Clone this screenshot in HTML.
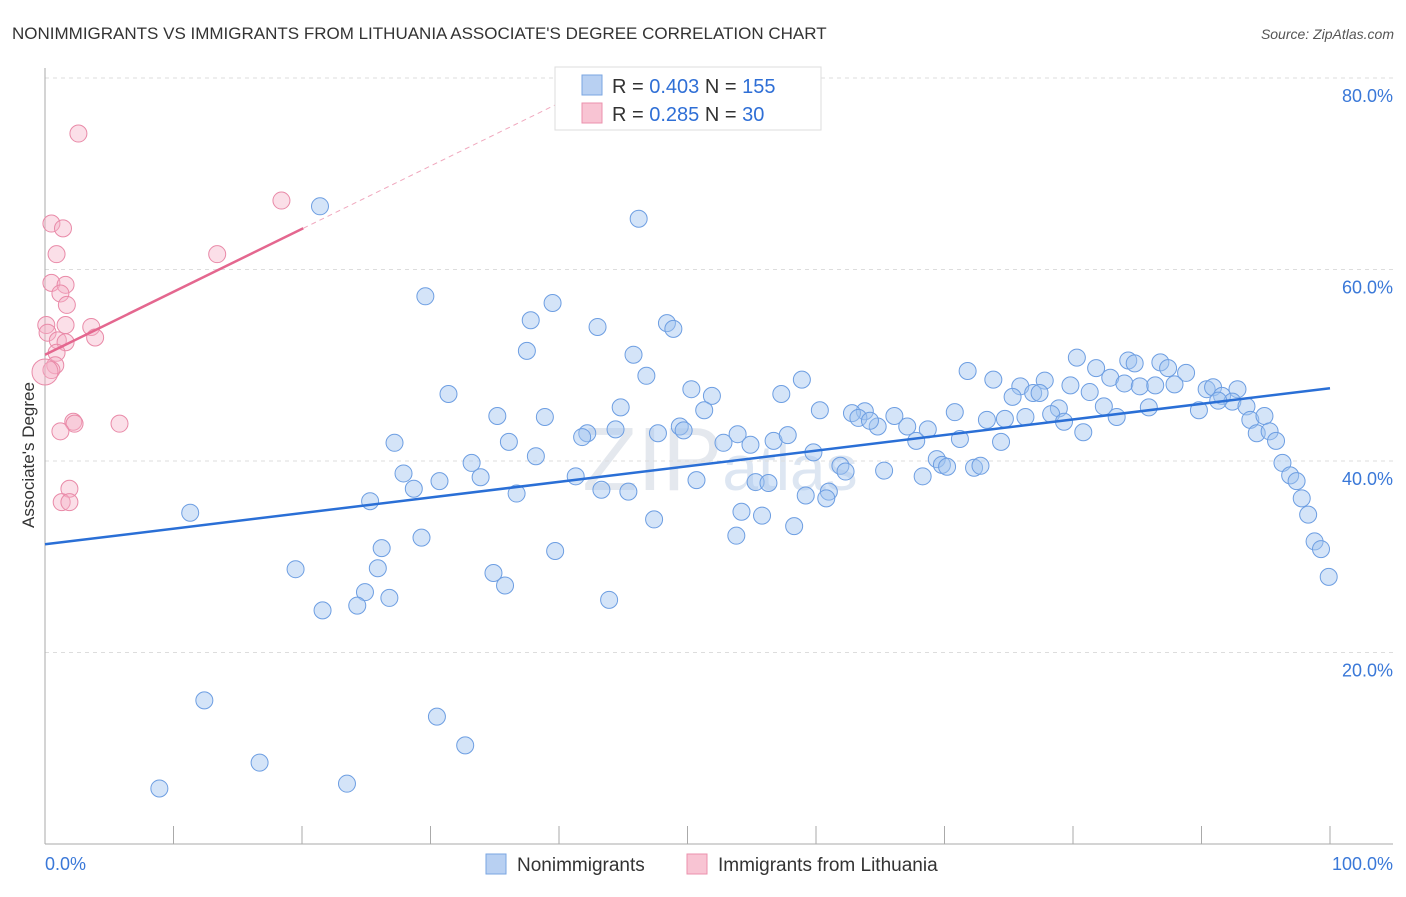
<!DOCTYPE html>
<html><head><meta charset="utf-8"><style>
body{margin:0;background:#fff;font-family:"Liberation Sans",sans-serif;}
svg text{font-family:"Liberation Sans",sans-serif;}
</style></head><body>
<svg id="chart" width="1406" height="892" xmlns="http://www.w3.org/2000/svg">
<text x="12" y="39" font-size="17" fill="#333">NONIMMIGRANTS VS IMMIGRANTS FROM LITHUANIA ASSOCIATE'S DEGREE CORRELATION CHART</text>
<text x="1394" y="39" font-size="14" fill="#555" font-style="italic" text-anchor="end">Source: ZipAtlas.com</text>
<text x="720" y="490" font-size="90" fill="#e4e8ee" text-anchor="middle" font-family="Liberation Serif">ZIP<tspan font-size="64" fill="#dde6f2" font-family="Liberation Sans">atlas</tspan></text>
<g id="grid"></g><g id="axes"></g><g id="marks"></g><g id="trends"></g>
<text transform="translate(34,455) rotate(-90)" font-size="17" fill="#333" text-anchor="middle">Associate's Degree</text>
<g>
<rect x="555" y="67" width="266" height="63" fill="#fff" stroke="#ddd"/>
<rect x="582" y="75" width="20" height="20" fill="#b8d0f2" stroke="#7aa6e2"/>
<text x="612" y="93" font-size="20" fill="#333">R = <tspan fill="#2f6fd6">0.403</tspan>   N = <tspan fill="#2f6fd6">155</tspan></text>
<rect x="582" y="103" width="20" height="20" fill="#f8c4d3" stroke="#eb91ac"/>
<text x="612" y="121" font-size="20" fill="#333">R =  <tspan fill="#2f6fd6">0.285</tspan>   N =   <tspan fill="#2f6fd6">30</tspan></text>
</g>
<g>
<rect x="486" y="854" width="20" height="20" fill="#b8d0f2" stroke="#7aa6e2"/>
<text x="517" y="871" font-size="19" fill="#333">Nonimmigrants</text>
<rect x="687" y="854" width="20" height="20" fill="#f8c4d3" stroke="#eb91ac"/>
<text x="718" y="871" font-size="19" fill="#333">Immigrants from Lithuania</text>
</g>
</svg>
<script>
const blueX=[21.4,46.2,29.6,39.5,37.8,43.0,48.4,48.9,37.5,45.8,46.8,58.9,31.4,50.3,51.9,57.3,71.8,73.8,80.3,81.8,84.3,84.8,86.8,87.4,88.8,82.9,84.0,85.2,86.4,87.9,77.8,75.9,79.8,81.3,75.3,76.9,77.4,90.4,90.9,92.8,91.6,92.4,91.3,93.5,89.8,85.9,82.4,78.9,78.3,79.3,83.4,80.8,93.8,94.9,94.3,95.3,95.8,96.3,96.9,97.4,97.8,98.3,98.8,99.3,99.9,70.8,73.3,74.7,76.3,74.4,71.2,68.7,67.1,67.8,66.1,64.8,63.8,62.8,63.3,64.2,60.3,53.9,52.8,54.9,56.7,57.8,59.8,61.9,62.3,65.3,69.4,69.8,70.2,72.3,72.8,68.3,55.3,56.3,50.7,59.2,61.0,60.8,54.2,55.8,58.3,53.8,44.8,51.3,49.4,47.7,49.7,44.4,42.2,41.8,38.9,35.2,36.1,38.2,33.2,33.9,27.2,27.9,28.7,30.7,25.3,36.7,41.3,43.3,45.4,47.4,11.3,26.2,29.3,39.7,19.5,25.9,34.9,35.8,24.9,26.8,24.3,21.6,43.9,12.4,30.5,32.7,16.7,23.5,8.9];
const blueY=[66.6,65.3,57.2,56.5,54.7,54.0,54.4,53.8,51.5,51.1,48.9,48.5,47.0,47.5,46.8,47.0,49.4,48.5,50.8,49.7,50.5,50.2,50.3,49.7,49.2,48.7,48.1,47.8,47.9,48.0,48.4,47.8,47.9,47.2,46.7,47.1,47.1,47.5,47.7,47.5,46.8,46.2,46.3,45.7,45.3,45.6,45.7,45.5,44.9,44.1,44.6,43.0,44.3,44.7,42.9,43.1,42.1,39.8,38.5,37.9,36.1,34.4,31.6,30.8,27.9,45.1,44.3,44.4,44.6,42.0,42.3,43.3,43.6,42.1,44.7,43.6,45.2,45.0,44.5,44.2,45.3,42.8,41.9,41.7,42.1,42.7,40.9,39.5,38.9,39.0,40.2,39.6,39.4,39.3,39.5,38.4,37.8,37.7,38.0,36.4,36.8,36.1,34.7,34.3,33.2,32.2,45.6,45.3,43.6,42.9,43.2,43.3,42.9,42.5,44.6,44.7,42.0,40.5,39.8,38.3,41.9,38.7,37.1,37.9,35.8,36.6,38.4,37.0,36.8,33.9,34.6,30.9,32.0,30.6,28.7,28.8,28.3,27.0,26.3,25.7,24.9,24.4,25.5,15.0,13.3,10.3,8.5,6.3,5.8];
const pinkX=[2.6,18.4,0.5,1.4,0.9,13.4,0.5,1.6,1.2,1.7,0.1,1.6,3.6,0.2,3.9,1.0,1.6,0.9,0.8,0.5,0.0,2.2,2.3,1.2,5.8,1.9,1.3,1.9];
const pinkY=[74.2,67.2,64.8,64.3,61.6,61.6,58.6,58.4,57.5,56.3,54.2,54.2,54.0,53.4,52.9,52.6,52.4,51.3,50.0,49.5,49.3,44.1,43.9,43.1,43.9,37.1,35.7,35.7];
const blueTrend=[31.3,47.6];   // y at x=0 and x=100
const pinkTrend=[51.1,0.657];  // intercept, slope
const yTicks=[20,40,60,80];
const xTickLabels=["0.0%","100.0%"];
const NS="http://www.w3.org/2000/svg";
const sx=v=>45+v*12.85, sy=v=>844-v*9.575;
function mk(parent,tag,attrs){const e=document.createElementNS(NS,tag);for(const k in attrs)e.setAttribute(k,attrs[k]);document.getElementById(parent).appendChild(e);return e;}
yTicks.forEach(t=>{
 const l=mk('grid','line',{x1:45,x2:1393,y1:sy(t),y2:sy(t),stroke:'#ddd','stroke-dasharray':'4,4'});
 
 
 const tx=mk('grid','text',{x:1393,y:sy(t)+24,'font-size':18,fill:'#3a78d8','text-anchor':'end'});
 tx.textContent=t.toFixed(1)+'%';
 
 
});
let a=mk('axes','line',{x1:45,x2:45,y1:68,y2:844,stroke:'#aaa'});


a=mk('axes','line',{x1:45,x2:1393,y1:844,y2:844,stroke:'#aaa'});


for(let i=0;i<=10;i++){
 const t=mk('axes','line',{x1:sx(i*10),x2:sx(i*10),y1:826,y2:844,stroke:'#aaa'});
 
 
}
[[0,'start',45],[100,'end',1393]].forEach((p,i)=>{
 const t=mk('axes','text',{x:p[2],y:870,'font-size':18,fill:'#3a78d8','text-anchor':p[1]});
 t.textContent=xTickLabels[i];
 
 
});
blueX.forEach((x,i)=>{
 const c=mk('marks','circle',{cx:sx(x),cy:sy(blueY[i]),r:8.5,fill:'rgba(160,195,240,0.45)',stroke:'#6d9ee2','stroke-width':1});
 
 
});
pinkX.forEach((x,i)=>{
 const c=mk('marks','circle',{cx:sx(x),cy:sy(pinkY[i]),r:i==20?13:8.5,fill:'rgba(245,175,198,0.4)',stroke:'#e98aa8','stroke-width':1});
 
 
});
let t=mk('trends','line',{x1:sx(0),y1:sy(blueTrend[0]),x2:sx(100),y2:sy(blueTrend[1]),stroke:'#2a6fd6','stroke-width':2.5});


t=mk('trends','line',{x1:sx(0),y1:sy(pinkTrend[0]),x2:sx(20.1),y2:sy(pinkTrend[0]+pinkTrend[1]*20.1),stroke:'#e4678f','stroke-width':2.5});


t=mk('trends','line',{x1:sx(20.1),y1:sy(pinkTrend[0]+pinkTrend[1]*20.1),x2:sx(40),y2:sy(pinkTrend[0]+pinkTrend[1]*40),stroke:'#f0a8be','stroke-width':1,'stroke-dasharray':'5,4'});


</script>
</body></html>
